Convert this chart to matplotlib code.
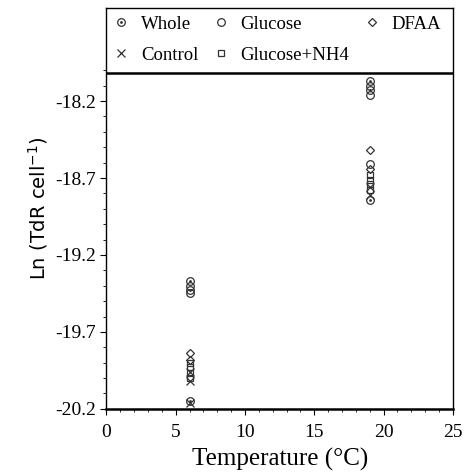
"""Ln TdR uptake per cell vs temperature, by substrate treatment."""

import matplotlib
matplotlib.use("Agg")

import matplotlib.pyplot as plt
import numpy as np
from matplotlib.legend_handler import HandlerTuple
from matplotlib.lines import Line2D

plt.rcParams["axes.unicode_minus"] = False

# temperatures (deg C) and Ln(TdR cell^-1)
whole_t = [6.0, 6.0, 6.0, 19.0, 19.0, 19.0]
whole_v = [-19.37, -19.43, -20.15, -18.07, -18.13, -18.84]
glucose_t = [6.0, 6.0, 19.0, 19.0, 19.0]
glucose_v = [-19.40, -19.45, -18.10, -18.16, -18.61]
dfaa_t = [6.0, 6.0, 19.0, 19.0]
dfaa_v = [-19.84, -19.88, -18.52, -18.64]
control_t = [6.0, 6.0, 6.0, 19.0, 19.0]
control_v = [-19.96, -20.02, -20.16, -18.76, -18.81]
nh4_t = [6.0, 6.0, 6.0, 6.0, 19.0, 19.0, 19.0, 19.0]
nh4_v = [-19.90, -19.93, -19.97, -20.00, -18.68, -18.71, -18.74, -18.78]

y_major = [-20.2, -19.7, -19.2, -18.7, -18.2]
x_major = [0, 5, 10, 15, 20, 25]

SERIF = "Liberation Serif"
INK = "#333333"

fig = plt.figure(figsize=(4.65, 4.76), dpi=100)
ax = fig.add_axes([0.229, 0.141, 0.745, 0.842])

mk = dict(linestyle="none", markerfacecolor="none", markeredgecolor=INK,
          markeredgewidth=0.9, markersize=5.5)
ax.plot(whole_t, whole_v, marker="o", **mk)
ax.plot(whole_t, whole_v, linestyle="none", marker=".", color=INK, markersize=2)
ax.plot(glucose_t, glucose_v, marker="o", **mk)
ax.plot(dfaa_t, dfaa_v, marker="D", **dict(mk, markersize=4.5))
ax.plot(control_t, control_v, marker="x", **mk)
ax.plot(nh4_t, nh4_v, marker="s", **dict(mk, markersize=4.5))

ax.set_xlim(0, 25)
ax.set_ylim(-20.2, -17.596)
ax.axhline(-18.018, color="black", lw=1.8)

ax.set_xticks(x_major)
ax.set_xticks(np.arange(0, 26, 1), minor=True)
ax.set_yticks(y_major)
ax.set_yticklabels([f"{v:.1f}" for v in y_major])
ax.set_yticks(np.arange(-20.2, -17.95, 0.1), minor=True)
ax.tick_params(which="major", length=4, width=0.8, labelsize=14)
ax.tick_params(which="minor", length=2.5, width=0.6)
ax.tick_params(axis="x", which="major", pad=7)
for lab in ax.get_xticklabels() + ax.get_yticklabels():
    lab.set_fontfamily(SERIF)

for side, sp in ax.spines.items():
    sp.set_linewidth(1.0)
ax.spines["bottom"].set_linewidth(1.8)

ax.set_xlabel("Temperature (°C)", fontfamily=SERIF, fontsize=18, labelpad=5)
ax.set_ylabel("Ln (TdR cell$^{-1}$)", fontfamily="DejaVu Sans", fontsize=14, labelpad=4)

# legend sits in the boxed strip above the separator line
h_whole = (Line2D([], [], marker="o", **mk),
           Line2D([], [], marker=".", color=INK, linestyle="none", markersize=2))
h_glu = Line2D([], [], marker="o", **mk)
h_dfaa = Line2D([], [], marker="D", **dict(mk, markersize=4.5))
h_ctrl = Line2D([], [], marker="x", **mk)
h_nh4 = Line2D([], [], marker="s", **dict(mk, markersize=4.5))
ax.legend([h_whole, h_ctrl, h_glu, h_nh4, h_dfaa],
          ["Whole", "Control", "Glucose", "Glucose+NH4", "DFAA"],
          ncol=3, loc="upper left", bbox_to_anchor=(0.0, 1.0),
          frameon=False, handlelength=0.8, handletextpad=0.65,
          columnspacing=0.8, labelspacing=0.75, borderaxespad=0.0,
          prop={"family": SERIF, "size": 13.5},
          handler_map={tuple: HandlerTuple(ndivide=1)})

fig.savefig("out.png", dpi=100)
